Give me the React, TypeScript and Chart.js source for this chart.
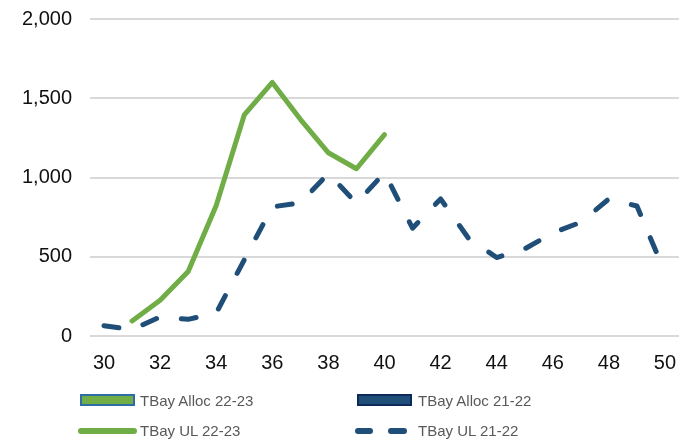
import React, { useEffect, useRef } from "react";
import { Chart, registerables } from "chart.js";

Chart.register(...registerables);

const weeks = ["30", "31", "32", "33", "34", "35", "36", "37", "38", "39", "40", "41", "42", "43", "44", "45", "46", "47", "48", "49", "50"];
const allocCurrent: (number | null)[] = [];
const allocPrior: (number | null)[] = [];
const ulCurrent: (number | null)[] = [null, 95, 225, 407, 823, 1395, 1600, 1367, 1156, 1055, 1270, null, null, null, null, null, null, null, null, null, null];
const ulPrior: (number | null)[] = [65, 40, 120, 105, 145, 480, 815, 840, 1025, 838, 1030, 680, 865, 615, 495, 550, 650, 718, 865, 820, 400];
const yTicks = [0, 500, 1000, 1500, 2000];

const GREEN = "#70AD47";
const BLUE = "#1F4E79";
const FONT = "'Liberation Sans', Arial, sans-serif";

export default function App() {
  const ref = useRef<HTMLCanvasElement | null>(null);

  useEffect(() => {
    if (!ref.current) return;
    const chart = new Chart(ref.current, {
      type: "line",
      data: {
        labels: weeks,
        datasets: [
          { type: "bar", label: "TBay Alloc 22-23", data: allocCurrent, backgroundColor: GREEN, borderColor: "#2E6DA4" } as any,
          { type: "bar", label: "TBay Alloc 21-22", data: allocPrior, backgroundColor: BLUE, borderColor: "#0B2A5A" } as any,
          {
            label: "TBay UL 22-23",
            data: ulCurrent,
            borderColor: GREEN,
            backgroundColor: GREEN,
            borderWidth: 5,
            borderCapStyle: "round",
            borderJoinStyle: "round",
            pointRadius: 0,
            tension: 0,
            fill: false,
          },
          {
            label: "TBay UL 21-22",
            data: ulPrior,
            borderColor: BLUE,
            backgroundColor: BLUE,
            borderWidth: 5,
            borderDash: [15, 25.2],
            borderCapStyle: "round",
            borderJoinStyle: "round",
            pointRadius: 0,
            tension: 0,
            fill: false,
          },
        ],
      },
      options: {
        responsive: false,
        animation: false,
        layout: { padding: { top: 19, right: 17, left: 0, bottom: 0 } },
        plugins: { legend: { display: false }, tooltip: { enabled: false } },
        scales: {
          x: {
            offset: true,
            grid: { display: false },
            border: { display: false },
            ticks: {
              autoSkip: false,
              maxRotation: 0,
              padding: 7,
              color: "#111",
              font: { family: FONT, size: 20 },
              callback: (_v: any, i: number) => (i % 2 === 0 ? weeks[i] : ""),
            },
            afterFit: (s: any) => {
              s.height = 104;
            },
          },
          y: {
            min: yTicks[0],
            max: yTicks[yTicks.length - 1],
            border: { display: false },
            grid: { color: "#D9D9D9", lineWidth: 2, drawTicks: false },
            ticks: {
              stepSize: 500,
              padding: 18,
              color: "#111",
              font: { family: FONT, size: 20 },
            },
            afterFit: (s: any) => {
              s.width = 90;
              s.paddingTop = 0;
              s.paddingBottom = 0;
            },
          },
        },
      },
    });
    return () => chart.destroy();
  }, []);

  const text: React.CSSProperties = {
    position: "absolute",
    fontFamily: FONT,
    fontSize: 15,
    color: "#595959",
    lineHeight: "18px",
    whiteSpace: "nowrap",
  };

  return (
    <div style={{ position: "fixed", left: 0, top: 0, width: 696, height: 440, background: "#fff" }}>
      <canvas ref={ref} width={696} height={440} style={{ display: "block" }} />
      {/* legend row 1 */}
      <div style={{ position: "absolute", left: 80, top: 394, width: 51, height: 8, background: GREEN, border: "2px solid #2E6DA4" }} />
      <div style={{ ...text, left: 140, top: 392 }}>TBay Alloc 22-23</div>
      <div style={{ position: "absolute", left: 357, top: 394, width: 51, height: 8, background: BLUE, border: "2px solid #0B2A5A" }} />
      <div style={{ ...text, left: 418, top: 392 }}>TBay Alloc 21-22</div>
      {/* legend row 2 */}
      <div style={{ position: "absolute", left: 78, top: 428, width: 59, height: 6, borderRadius: 3, background: GREEN }} />
      <div style={{ ...text, left: 140, top: 422 }}>TBay UL 22-23</div>
      <div style={{ position: "absolute", left: 355, top: 428, width: 18, height: 6, borderRadius: 3, background: BLUE }} />
      <div style={{ position: "absolute", left: 388, top: 428, width: 19, height: 6, borderRadius: 3, background: BLUE }} />
      <div style={{ ...text, left: 418, top: 422 }}>TBay UL 21-22</div>
    </div>
  );
}
